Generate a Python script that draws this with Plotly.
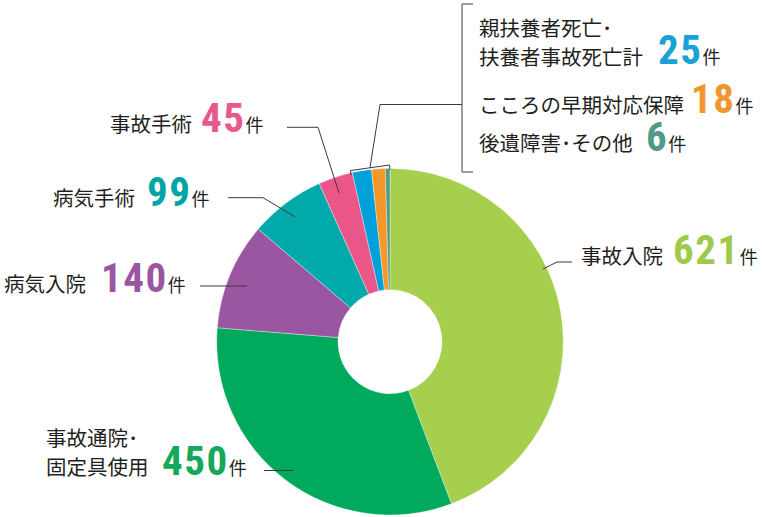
import plotly.graph_objects as go

W, H = 762, 517

categories = ["事故入院", "事故通院・固定具使用", "病気入院", "病気手術", "事故手術",
              "親扶養者死亡・扶養者事故死亡計", "こころの早期対応保障", "後遺障害・その他"]
values = [621, 450, 140, 99, 45, 25, 18, 6]
slice_colors = ["#a6cf4e", "#00a95c", "#9b56a1", "#00a9aa", "#eb5689", "#00a1d8", "#f4982a", "#4f9b88"]
num_colors = ["#9ec94a", "#13a85a", "#9b56a1", "#00a3a6", "#e8588b", "#1aa2d6", "#f0962e", "#4f9b87"]
unit = "件"

TXT = "#231f20"
JP = "Noto Sans CJK JP"
NUM = "Liberation Sans Narrow, Roboto Condensed, Roboto, sans-serif"
NUMSIZE = 41
JPSIZE = 20.5

cx, cy, R = 390.0, 341.7, 173.3

fig = go.Figure(go.Pie(
    labels=categories, values=values, sort=False, direction="clockwise", rotation=0,
    hole=0.30, textinfo="none", hoverinfo="label+value",
    marker=dict(colors=slice_colors, line=dict(color="rgba(255,255,255,0.6)", width=0.6)),
    domain=dict(x=[(cx - R) / W, (cx + R) / W], y=[(H - cy - R) / H, (H - cy + R) / H]),
    showlegend=False,
))


def px(x):
    return x / W


def py(y):
    return 1 - y / H


ann = []


def text(t, x, baseline):
    ann.append(dict(text=t, x=px(x), y=py(baseline + 5), xref="paper", yref="paper",
                    xanchor="left", yanchor="bottom", showarrow=False, borderpad=0,
                    font=dict(family=JP, size=JPSIZE, color=TXT), align="left"))


def number(i, x, baseline):
    t = (f"<span style='font-weight:bold;letter-spacing:1.5px;color:{num_colors[i]}'>{values[i]}</span>"
         f"<span style='font-family:{JP};font-size:18px;font-weight:normal;letter-spacing:0px;color:{TXT}'>{unit}</span>")
    ann.append(dict(text=t, x=px(x), y=py(baseline + 9), xref="paper", yref="paper",
                    xanchor="left", yanchor="bottom", showarrow=False, borderpad=0,
                    height=40, valign="bottom",
                    font=dict(family=NUM, size=NUMSIZE, color=num_colors[i]), align="left"))


# label pieces: (text, x, baseline)
text("事故入院", 580, 266); number(0, 672, 266)
text("事故通院･", 45, 448)
text("固定具使用", 45, 477); number(1, 161, 477)
text("病気入院", 3, 294); number(2, 100, 294)
text("病気手術", 52, 208); number(3, 146, 208)
text("事故手術", 109, 134); number(4, 200, 134)
text("親扶養者死亡･", 478, 38)
text("扶養者事故死亡計", 478, 66.5); number(5, 657, 66.5)
text("こころの早期対応保障", 478, 115); number(6, 690, 115)
text("後遺障害･その他", 478, 153); number(7, 645, 153)

LC = "#3a3a3a"


def path(pts):
    d = "M " + " L ".join(f"{px(x)},{py(y)}" for x, y in pts)
    return dict(type="path", path=d, xref="paper", yref="paper", line=dict(color=LC, width=1))


shapes = [
    path([(543, 269), (557, 262), (572, 262)]),
    path([(264, 470.5), (293, 470.5)]),
    path([(200, 286), (247, 286)]),
    path([(228, 197.7), (263, 197.7), (295, 216.7)]),
    path([(287, 127.3), (318, 127.3), (339, 193)]),
    path([(351, 175), (350.5, 170.5), (389.5, 165), (390, 169.5)]),
    path([(370, 167.5), (380, 104.5), (462, 104.5)]),
    path([(473, 4), (462, 4), (462, 172), (473, 172)]),
]

fig.update_layout(
    width=W, height=H, margin=dict(l=0, r=0, t=0, b=0),
    paper_bgcolor="white", plot_bgcolor="white",
    annotations=ann, shapes=shapes,
)

fig.write_html("out.html", config={"displayModeBar": False},
               post_script="document.body.style.margin='0';")
